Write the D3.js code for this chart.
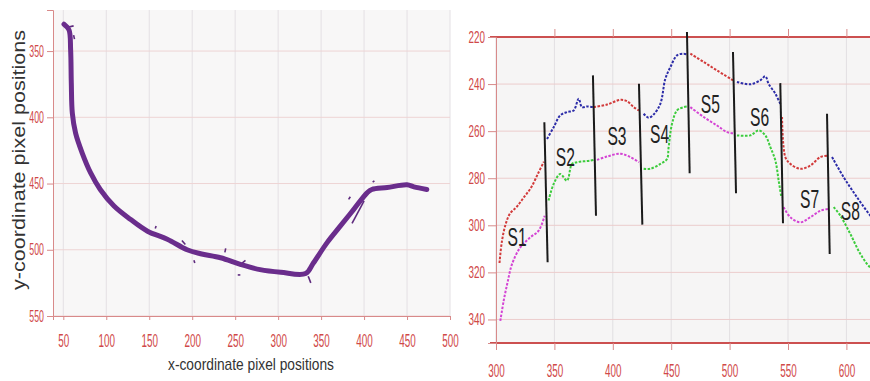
<!DOCTYPE html>
<html>
<head>
<meta charset="utf-8">
<script src="https://cdn.jsdelivr.net/npm/d3@7"></script>
<style>
  body { margin: 0; background: #fff; }
  svg { display: block; }
</style>
</head>
<body>
<svg id="chart" width="870" height="381"></svg>
<script>
// left panel: tracked contour (x, y in pixel coordinates)
const contour = [
  [50.8, 329.7], [56.6, 334], [58.5, 349], [59.3, 374], [60.5, 397], [64.3, 412],
  [72, 427], [81.8, 442], [93, 454.5], [109, 467], [128, 477], [148, 486],
  [171, 492], [194, 500], [209.7, 503], [233, 506], [256, 511], [279, 515],
  [303, 517], [332, 518], [341, 510], [357, 494.6], [372.5, 482], [388, 469.5],
  [403.5, 457], [409, 454.5], [427, 453], [450, 451], [458, 452.5], [473, 454.5]
];
// small stray fragments next to the contour
const strays = [
  [[55, 332], [62, 331]], [[62, 338], [63, 341]], [[157, 484], [158, 482]],
  [[188, 493], [192, 496]], [[202, 508], [203, 510]], [[238, 502], [239, 499]],
  [[258, 510], [262, 508]], [[253, 519], [256, 519]], [[335, 520], [338, 525]],
  [[382, 462], [384, 460]], [[386, 480], [400, 463]], [[410, 449], [412, 448]]
];
const leftXTicks = [50, 100, 150, 200, 250, 300, 350, 400, 450, 500];
const leftYTicks = [350, 400, 450, 500, 550];

// right panel: upper and lower profiles, split in segments S1..S8
const upperSegs = [
  [[303, 316], [305, 307], [308, 300], [312, 295], [318, 292], [324, 288], [330, 284], [336, 278], [341, 273]],
  [[343.7, 263.3], [349.4, 258.3], [355, 253.3], [360.8, 251.9], [366.5, 251.2], [370.8, 246.2], [373.6, 249.8], [378, 249.5], [383, 249.8]],
  [[383.6, 249.8], [395, 248.7], [406.4, 246.7], [412, 247.2], [417.9, 249.8], [422.4, 251.2]],
  [[426.4, 252.6], [430.7, 254.3], [435, 252.9], [440.7, 248.4], [445, 237.7], [449.3, 232.8], [455, 227.8], [460.7, 227.1], [463.5, 227.4]],
  [[466.4, 227.1], [477.8, 230.6], [489.2, 234.2], [502.9, 238.4]],
  [[506.3, 239.1], [517.7, 240.1], [526.3, 238.4], [530.6, 236.7], [533.4, 239.9], [539.2, 244.1], [543.4, 248.4]],
  [[544.9, 254], [547.7, 271], [552, 273.9], [560.6, 276], [569.1, 274.6], [577.7, 271], [583.4, 270.4]],
  [[587.7, 271], [597.7, 279.6], [609.1, 288.1], [620.5, 295.9], [626, 299]]
];
const lowerSegs = [
  [[303.7, 340.6], [306.6, 332], [310, 324], [313.7, 316.5], [320.8, 309.4], [329.4, 305.1], [336.5, 302.3], [341.7, 295.9]],
  [[345, 289.5], [349.4, 282.4], [355, 278.2], [360.8, 281], [365, 274], [369.3, 273.2], [380.8, 272.5], [383.6, 272.2]],
  [[386.5, 272.2], [395, 270.8], [406.4, 269.6], [415, 271], [422.4, 273.2]],
  [[426.4, 276], [432, 276], [440.7, 273.9], [446.4, 271.8], [447.8, 266.8], [450.7, 256.9], [455, 251.2], [460.7, 249.8], [464, 249.5]],
  [[466.4, 249.8], [477.8, 254], [489.2, 257.6], [497.8, 260.4], [503.5, 260.9]],
  [[506.3, 261.8], [517.7, 261.8], [524.9, 259.7], [530.6, 261.8], [534.9, 266.8], [539.2, 272.5], [542, 281], [544.3, 288.1]],
  [[546.3, 292.3], [552, 296.6], [560.6, 298.7], [569.1, 296.6], [577.7, 293.8], [584.9, 293]],
  [[589.1, 292.3], [594.8, 295.9], [603.4, 303.7], [612, 312.2], [620.5, 317.9], [626, 319]]
];
const upperColors = ["#d23a3a", "#2c2ca8"];
const lowerColors = ["#d444d4", "#3ccc3c"];
// dividers: [xTop, yTop, xBottom, yBottom]
const dividers = [
  [341.4, 256.2, 344.2, 315.7], [383, 236.3, 385.6, 295.9], [422.4, 239.9, 425.3, 299.7],
  [463.5, 217.9, 465.8, 277.9], [502.9, 226.4, 505.5, 286.4], [543.4, 239.6, 545.7, 299.1],
  [583.4, 252.6, 585.7, 312.2]
];
const segLabels = ["S1", "S2", "S3", "S4", "S5", "S6", "S7", "S8"];
const labelPos = [
  [318, 305], [359.4, 271], [403.6, 261.8], [440, 261], [483.5, 248.4], [525.7, 254], [568.5, 288.8], [603.4, 293.8]
];
const rightXTicks = [300, 350, 400, 450, 500, 550, 600];
const rightYTicks = [220, 240, 260, 280, 300, 320, 340];

const svg = d3.select("#chart");
const font = "'Liberation Sans', Arial, sans-serif";
const tickRed = "#d04848";

// tick labels in the source are strongly condensed
function styleAxis(g, size, squeeze, offset) {
  g.select(".domain").attr("stroke", "#d88a8a");
  g.selectAll(".tick line").attr("stroke", "#d88a8a");
  const t = g.selectAll(".tick text").attr("fill", tickRed)
    .style("font-family", font).style("font-size", size + "px")
    .attr("transform", `scale(${squeeze},1)`);
  if (offset !== undefined) t.attr("x", -offset / squeeze);
}

// ---------- left panel ----------
const xL = d3.scaleLinear().domain([38, 500]).range([53, 450]);
const yL = d3.scaleLinear().domain([319, 550]).range([10, 316]);

svg.append("rect")
  .attr("x", 53).attr("y", 10).attr("width", 397).attr("height", 306)
  .attr("fill", "#f8f7f7");

svg.append("g").selectAll("line").data(leftXTicks).join("line")
  .attr("x1", (d) => xL(d)).attr("x2", (d) => xL(d))
  .attr("y1", 10).attr("y2", 316)
  .attr("stroke", "#e4e0e4").attr("stroke-width", 1);
svg.append("g").selectAll("line").data(leftYTicks).join("line")
  .attr("x1", 53).attr("x2", 450)
  .attr("y1", (d) => yL(d)).attr("y2", (d) => yL(d))
  .attr("stroke", "#eed4d4").attr("stroke-width", 1);

const lineL = d3.line().x((d) => xL(d[0])).y((d) => yL(d[1])).curve(d3.curveCatmullRom);

svg.append("g").selectAll("path").data(strays).join("path")
  .attr("d", (d) => d3.line().x((p) => xL(p[0])).y((p) => yL(p[1]))(d))
  .attr("fill", "none").attr("stroke", "#5e2a7e").attr("stroke-width", 1.6);

svg.append("path")
  .datum(contour)
  .attr("d", lineL)
  .attr("fill", "none")
  .attr("stroke", "#6a2d8c")
  .attr("stroke-width", 5)
  .attr("stroke-linejoin", "round")
  .attr("stroke-linecap", "round");

const axL = svg.append("g").attr("transform", "translate(0,316)")
  .call(d3.axisBottom(xL).tickValues(leftXTicks).tickSize(4).tickPadding(14));
const ayL = svg.append("g").attr("transform", "translate(53,0)")
  .call(d3.axisLeft(yL).tickValues(leftYTicks).tickSize(6).tickPadding(3));
styleAxis(axL, 18, 0.55);
styleAxis(ayL, 16, 0.55, 9);

svg.append("text")
  .attr("x", 251).attr("y", 370)
  .attr("text-anchor", "middle")
  .style("font-family", font)
  .style("font-size", "17px").attr("fill", "#333")
  .attr("textLength", 166).attr("lengthAdjust", "spacingAndGlyphs")
  .text("x-coordinate pixel positions");
svg.append("text")
  .attr("transform", "translate(25,160) rotate(-90)")
  .attr("text-anchor", "middle")
  .style("font-family", font)
  .style("font-size", "19px").attr("fill", "#333")
  .attr("textLength", 260).attr("lengthAdjust", "spacingAndGlyphs")
  .text("y-coordinate pixel positions");

// ---------- right panel ----------
const xR = d3.scaleLinear().domain([300, 625]).range([496, 875.6]);
const yR = d3.scaleLinear().domain([220, 350]).range([37, 343]);

svg.append("defs").append("clipPath").attr("id", "clipR")
  .append("rect").attr("x", 496).attr("y", 20).attr("width", 380).attr("height", 330);

svg.append("rect")
  .attr("x", 496).attr("y", 37).attr("width", 380).attr("height", 306)
  .attr("fill", "#f6f5f5");

svg.append("g").selectAll("line").data(rightXTicks).join("line")
  .attr("x1", (d) => xR(d)).attr("x2", (d) => xR(d))
  .attr("y1", 37).attr("y2", 343)
  .attr("stroke", "#e2dfe2").attr("stroke-width", 1);
svg.append("g").selectAll("line").data(rightYTicks.slice(1)).join("line")
  .attr("x1", 496).attr("x2", 870)
  .attr("y1", (d) => yR(d)).attr("y2", (d) => yR(d))
  .attr("stroke", "#eccccc").attr("stroke-width", 1);

// top and bottom frame lines
svg.append("g").selectAll("line").data([220, 350]).join("line")
  .attr("x1", 490).attr("x2", 870)
  .attr("y1", (d) => yR(d)).attr("y2", (d) => yR(d))
  .attr("stroke", "#cc5050").attr("stroke-width", 1.8);

const axR = svg.append("g").attr("transform", "translate(0,343)")
  .call(d3.axisBottom(xR).tickValues(rightXTicks).tickSize(7).tickPadding(14));
const axRTop = svg.append("g").attr("transform", "translate(0,37)")
  .call(d3.axisTop(xR).tickValues(rightXTicks.slice(1)).tickSize(8).tickFormat(""));
const ayR = svg.append("g").attr("transform", "translate(496,0)")
  .call(d3.axisLeft(yR).tickValues(rightYTicks).tickSize(8).tickPadding(4));
styleAxis(axR, 18, 0.55);
styleAxis(axRTop, 18, 0.55);
styleAxis(ayR, 17, 0.58, 11);
axR.select(".domain").remove();
axRTop.select(".domain").remove();

const plotR = svg.append("g").attr("clip-path", "url(#clipR)");
const lineR = d3.line().x((d) => xR(d[0])).y((d) => yR(d[1])).curve(d3.curveCatmullRom);

plotR.append("g").selectAll("path").data(upperSegs).join("path")
  .attr("d", lineR)
  .attr("fill", "none")
  .attr("stroke", (d, i) => upperColors[i % 2])
  .attr("stroke-width", 2)
  .attr("stroke-dasharray", "2.5,1.5");
plotR.append("g").selectAll("path").data(lowerSegs).join("path")
  .attr("d", lineR)
  .attr("fill", "none")
  .attr("stroke", (d, i) => lowerColors[i % 2])
  .attr("stroke-width", 2)
  .attr("stroke-dasharray", "2.5,1.5");

svg.append("g").selectAll("line").data(dividers).join("line")
  .attr("x1", (d) => xR(d[0])).attr("y1", (d) => yR(d[1]))
  .attr("x2", (d) => xR(d[2])).attr("y2", (d) => yR(d[3]))
  .attr("stroke", "#1a1a1a").attr("stroke-width", 2);

svg.append("g").selectAll("text").data(segLabels).join("text")
  .attr("transform", (d, i) => `translate(${xR(labelPos[i][0])},${yR(labelPos[i][1])}) scale(0.6,1)`)
  .attr("dy", "0.36em")
  .attr("text-anchor", "middle")
  .style("font-family", font)
  .style("font-size", "26px")
  .attr("fill", "#222")
  .text((d) => d);
</script>
</body>
</html>
